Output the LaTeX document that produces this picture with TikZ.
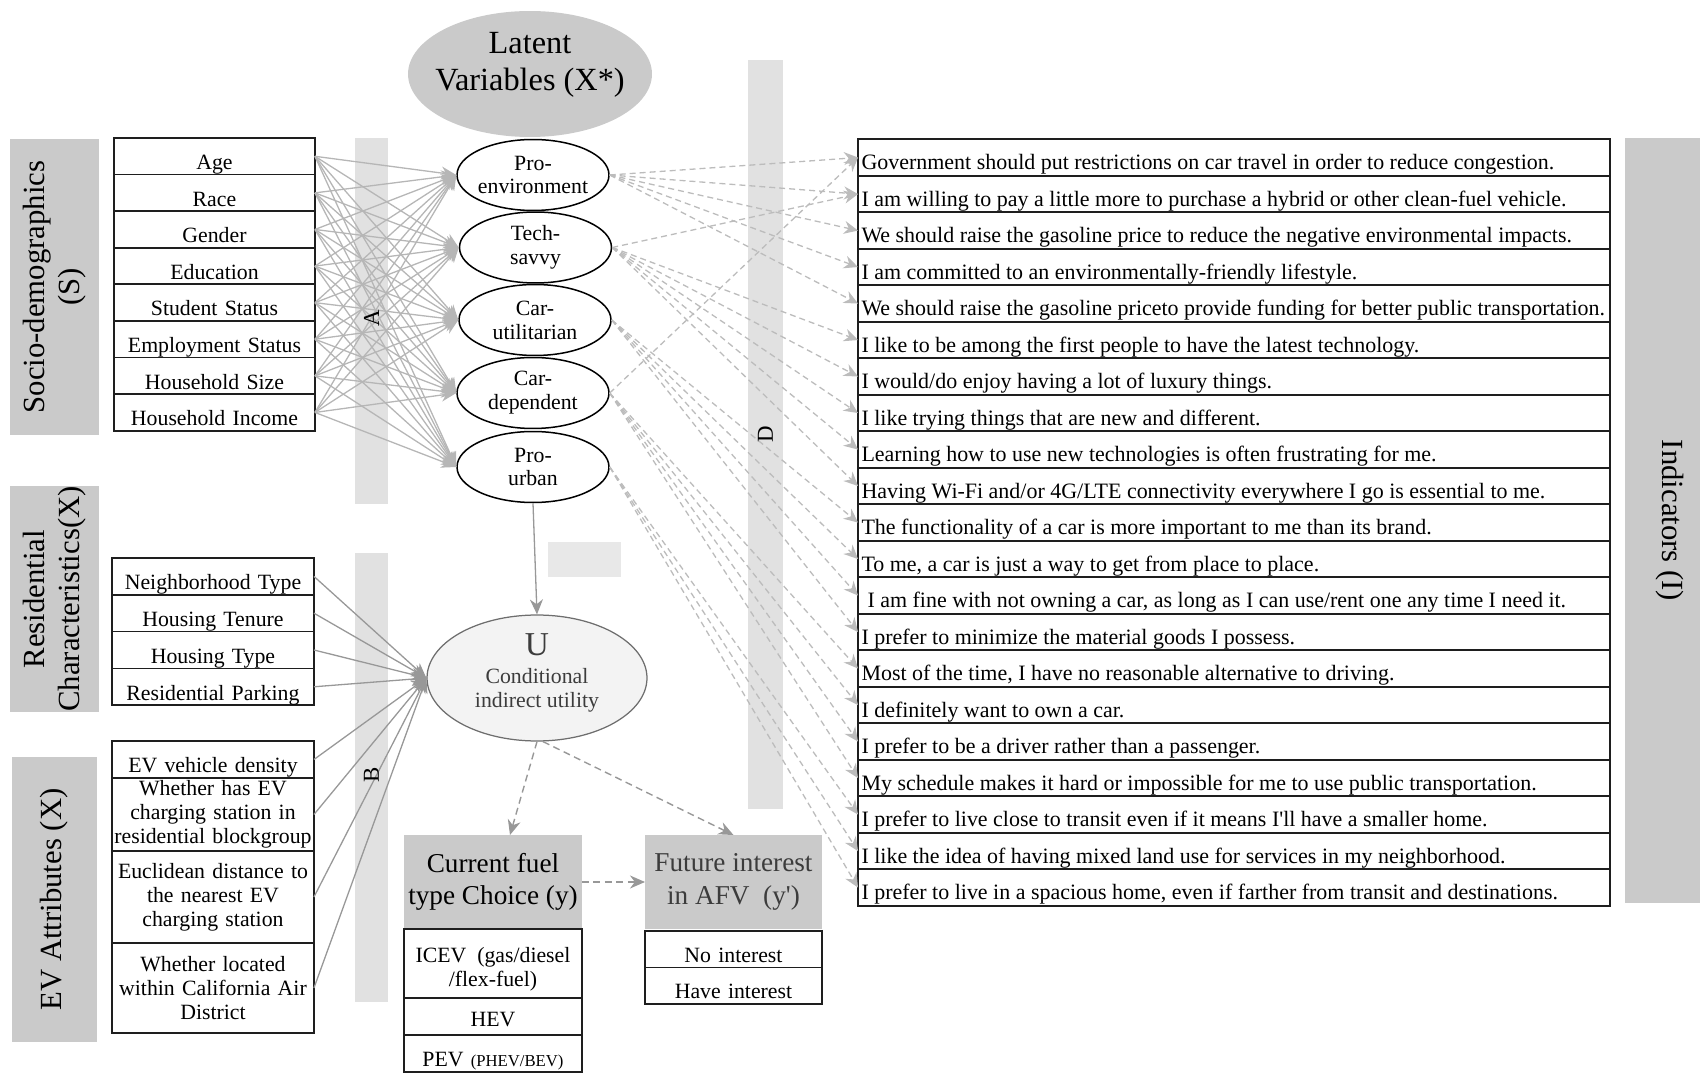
\documentclass[tikz,border=0pt]{standalone}
\usepackage{fontspec}
\setmainfont{Liberation Serif}
\usetikzlibrary{shapes.geometric,arrows.meta,calc}

\definecolor{labgray}{RGB}{202,202,202}
\definecolor{bargray}{RGB}{225,225,225}
\definecolor{patchgray}{RGB}{232,232,232}
\definecolor{arrA}{RGB}{182,182,182}
\definecolor{arrB}{RGB}{152,152,152}
\definecolor{dashc}{RGB}{188,188,188}
\definecolor{uline}{RGB}{110,110,110}
\definecolor{ufill}{RGB}{243,243,243}
\definecolor{utext}{RGB}{60,60,60}
\definecolor{boxline}{RGB}{30,30,30}

\newcommand\fitem{\fontsize{12.4}{13.6}\selectfont}
\newcommand\find{\fontsize{12.5}{13.6}\selectfont}
\newcommand\fbig{\fontsize{17.5}{19.5}\selectfont}
\newcommand\fhead{\fontsize{15.5}{18.5}\selectfont}
\newcommand\flatent{\fontsize{18.4}{21}\selectfont}

\begin{document}
\begin{tikzpicture}[x=0.02cm,y=-0.02cm,
  lab/.style={fill=labgray,draw=none,inner sep=0pt,font=\fbig,align=center},
  row/.style={draw=boxline,line width=0.035cm,anchor=north west,inner sep=0pt,outer sep=0pt,font=\fitem,align=center,fill=white},
  srow/.style={row,minimum width=4.02cm,text width=4.02cm,text height=0.632cm,text depth=0.1cm},
  rrow/.style={row,minimum width=4.04cm,text width=4.04cm,text height=0.636cm,text depth=0.1cm},
  mrow/.style={row,minimum width=4.04cm,text width=4.04cm},
  irow/.style={row,font=\find,minimum width=15.04cm,text height=0.61cm,text depth=0.12cm},
  head/.style={fill=labgray,anchor=north west,minimum height=1.88cm,inner sep=0pt,outer sep=0pt,align=center,font=\fhead},
  ell/.style={ellipse,draw=black,line width=0.03cm,minimum width=3.04cm,minimum height=1.42cm,inner sep=0pt,fill=white},
  lt/.style={font=\fitem,align=center},
  barlab/.style={rotate=90,font=\fontsize{13}{14}\selectfont},
  sarr/.style={draw=arrA,line width=0.026cm,-{Stealth[length=0.3cm,width=0.26cm]}},
  rarr/.style={draw=arrB,line width=0.026cm,-{Stealth[length=0.3cm,width=0.26cm]}},
  darr/.style={draw=dashc,line width=0.026cm,dash pattern=on 0.12cm off 0.08cm,-{Stealth[length=0.28cm,width=0.26cm]}},
  uarr/.style={draw=arrB,line width=0.028cm,dash pattern=on 0.14cm off 0.09cm,-{Stealth[length=0.3cm,width=0.26cm]}}
]
\useasboundingbox (0,0) rectangle (1700,1077);

% ---------- group labels ----------
\node[lab,rotate=90,minimum width=5.92cm,minimum height=1.78cm] (socl) at (54.5,287) {Socio-demographics\\(S)};
\node[lab,rotate=90,minimum width=4.24cm,minimum height=1.78cm] (resl) at (54.5,599) {Residential\\Characteristics(X)};
\node[lab,rotate=90,minimum width=5.7cm,minimum height=1.7cm] (evl) at (54.5,899.5) {EV Attributes (X)};
\node[lab,rotate=-90,minimum width=15.32cm,minimum height=1.8cm] (indl) at (1670,520.5) {Indicators (I)};

% ---------- shaded bars ----------
\fill[bargray] (355,138) rectangle (388,504);
\fill[bargray] (355,553) rectangle (388,1002);
\fill[bargray] (748,60) rectangle (783,809);
\fill[patchgray] (548,542) rectangle (621,577);

% ---------- socio-demographic items ----------
\node[srow] (age) at (114,138) {Age};
\node[srow] (race) at (age.south west) {Race};
\node[srow] (gen) at (race.south west) {Gender};
\node[srow] (edu) at (gen.south west) {Education};
\node[srow] (stu) at (edu.south west) {Student Status};
\node[srow] (emp) at (stu.south west) {Employment Status};
\node[srow] (hhs) at (emp.south west) {Household Size};
\node[srow] (hhi) at (hhs.south west) {Household Income};

% ---------- residential items ----------
\node[rrow] (nt) at (112,558) {Neighborhood Type};
\node[rrow] (ht) at (nt.south west) {Housing Tenure};
\node[rrow] (hty) at (ht.south west) {Housing Type};
\node[rrow] (rp) at (hty.south west) {Residential Parking};

% ---------- EV attribute items ----------
\node[rrow,minimum height=0.74cm,text height=0.64cm] (evd) at (112,741) {EV vehicle density};
\node[mrow,minimum height=1.46cm] (evc) at (evd.south west) {Whether has EV\\charging station in\\residential blockgroup};
\node[mrow,minimum height=1.84cm] (eud) at (evc.south west) {Euclidean distance to\\the nearest EV\\charging station};
\node[mrow,minimum height=1.8cm] (cad) at (eud.south west) {Whether located\\within California Air\\District};

% ---------- latent variables ----------
\node[ellipse,fill=labgray,minimum width=4.88cm,minimum height=2.52cm,inner sep=0pt] (lat) at (530,74) {};
\node[font=\flatent,align=center] (latt) at (530,65) {Latent\\Variables (X*)};
\node[ell,label={[lt]center:Pro-\\environment}] (pe) at (533,175) {};
\node[ell,label={[lt]center:Tech-\\savvy}] (ts) at (535.5,247.5) {};
\node[ell,label={[lt]center:Car-\\utilitarian}] (cu) at (535,320) {};
\node[ell,label={[lt]center:Car-\\dependent}] (cd) at (533,393) {};
\node[ell,label={[lt]center:Pro-\\urban}] (pu) at (533,467) {};

% ---------- utility ----------
\node[ellipse,fill=ufill,draw=uline,line width=0.025cm,minimum width=4.4cm,minimum height=2.52cm,inner sep=0pt] (u) at (537,678) {};
\node[font=\fontsize{19}{20}\selectfont,text=utext] (uu) at (537,645) {U};
\node[lt,text=utext] (ut) at (537,690) {Conditional\\indirect utility};

% ---------- outcomes ----------
\node[head,minimum width=3.56cm] (cur) at (404,835) {Current fuel\\type Choice (y)};
\node[row,minimum width=3.56cm,minimum height=1.38cm,label={[lt,yshift=-0.11cm]center:ICEV\ \ (gas/diesel\\/flex-fuel)}] (icev) at (cur.south west) {};
\node[row,minimum width=3.56cm,text width=3.56cm,text height=0.58cm,text depth=0.16cm] (hev) at (icev.south west) {HEV};
\node[row,minimum width=3.56cm,text width=3.56cm,text height=0.64cm,text depth=0.1cm] (pev) at (hev.south west) {PEV {\fontsize{9.5}{11}\selectfont (PHEV/BEV)}};

\node[head,minimum width=3.54cm,text=utext] (fut) at (645,835) {Future interest\\in AFV\ \ (y\textquotesingle)};
\node[row,minimum width=3.54cm,text width=3.54cm,text height=0.63cm,text depth=0.1cm] (noi) at (645,931) {No interest};
\node[row,minimum width=3.54cm,text width=3.54cm,text height=0.63cm,text depth=0.1cm] (hai) at (noi.south west) {Have interest};

% ---------- indicator statements ----------
\foreach \t [count=\n] in {
  {Government should put restrictions on car travel in order to reduce congestion.},
  {I am willing to pay a little more to purchase a hybrid or other clean-fuel vehicle.},
  {We should raise the gasoline price to reduce the negative environmental impacts.},
  {I am committed to an environmentally-friendly lifestyle.},
  {We should raise the gasoline priceto provide funding for better public transportation.},
  {I like to be among the first people to have the latest technology.},
  {I would/do enjoy having a lot of luxury things.},
  {I like trying things that are new and different.},
  {Learning how to use new technologies is often frustrating for me.},
  {Having Wi-Fi and/or 4G/LTE connectivity everywhere I go is essential to me.},
  {The functionality of a car is more important to me than its brand.},
  {To me, a car is just a way to get from place to place.},
  {\hspace*{0.12cm}I am fine with not owning a car, as long as I can use/rent one any time I need it.},
  {I prefer to minimize the material goods I possess.},
  {Most of the time, I have no reasonable alternative to driving.},
  {I definitely want to own a car.},
  {I prefer to be a driver rather than a passenger.},
  {My schedule makes it hard or impossible for me to use public transportation.},
  {I prefer to live close to transit even if it means I\textquotesingle ll have a smaller home.},
  {I like the idea of having mixed land use for services in my neighborhood.},
  {I prefer to live in a spacious home, even if farther from transit and destinations.}}
  \node[irow] (i\n) at (858,{139.3+36.5*(\n-1)}) {\makebox[15.04cm][l]{\hspace*{0.07cm}\t}};

% ---------- structural arrows ----------
\foreach \a in {age,race,gen,edu,stu,emp,hhs,hhi}
  \foreach \b in {pe,ts,cu,cd,pu}
    \draw[sarr] (\a.east) -- (\b.west);
\foreach \a in {nt,ht,hty,rp,evd,evc,eud,cad}
  \draw[rarr] (\a.east) -- (u.west);
\draw[rarr] (pu.south) -- (u.north);

% ---------- measurement arrows ----------
\foreach \s/\k in {pe/1,pe/2,pe/3,pe/4,pe/5,
                   ts/2,ts/6,ts/7,ts/8,ts/9,ts/10,
                   cu/11,cu/12,cu/13,cu/14,
                   cd/1,cd/15,cd/16,cd/17,cd/18,
                   pu/19,pu/20,pu/21}
  \draw[darr] (\s.east) -- (i\k.west);

% ---------- choice arrows ----------
\draw[uarr] (u.south) -- ($(cur.north)+(17,0)$);
\draw[uarr] ($(u.south)+(6,0)$) -- (fut.north);
\draw[uarr] (cur.east) -- (fut.west);

% ---------- bar letters ----------
\node[barlab] (la) at (371.5,318) {A};
\node[barlab] (lb) at (371.5,775) {B};
\node[barlab] (ld) at (765.5,434) {D};
\end{tikzpicture}
\end{document}
